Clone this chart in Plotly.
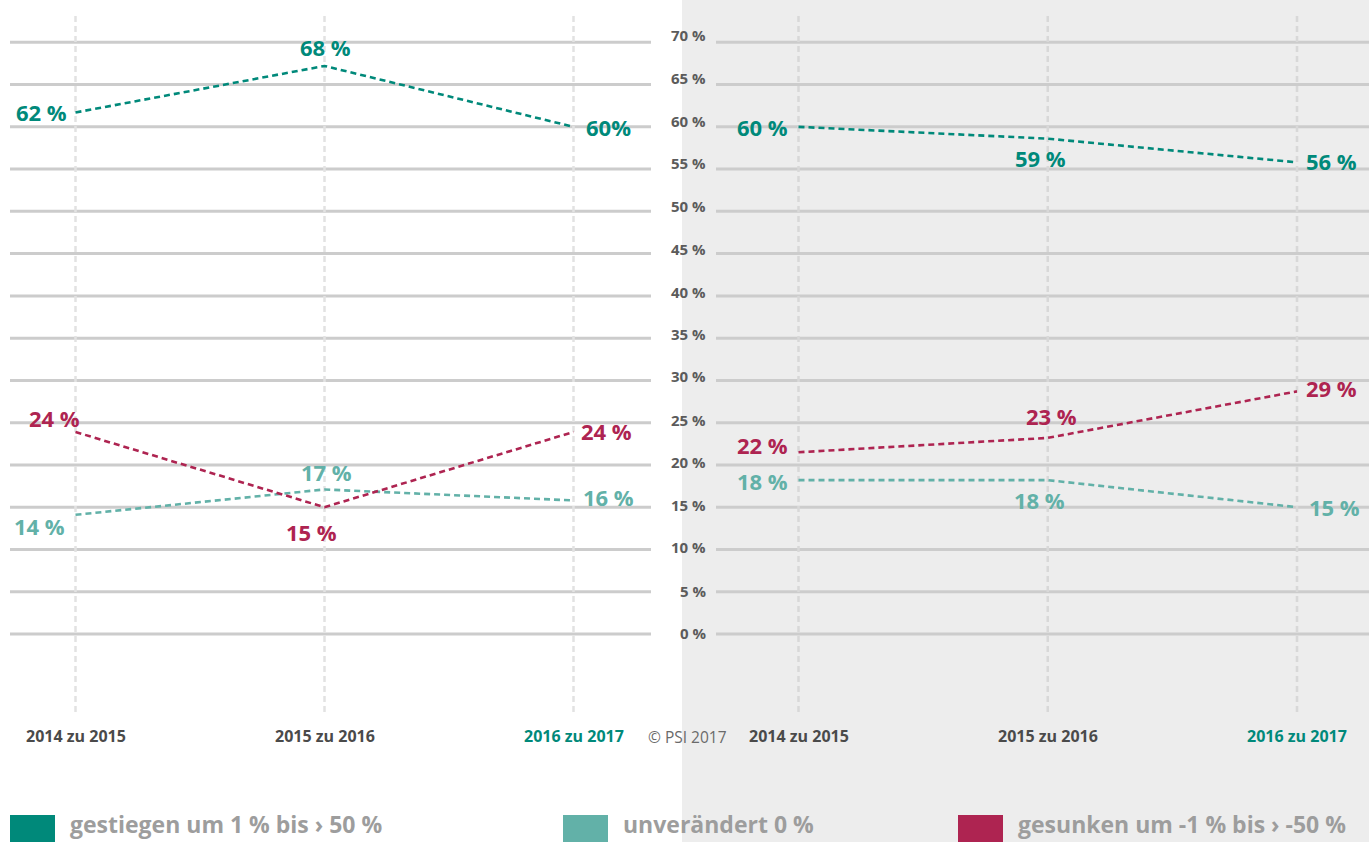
import plotly.graph_objects as go

# ---------------- data ----------------
categories = ["2014 zu 2015", "2015 zu 2016", "2016 zu 2017"]
series_names = ["gestiegen um 1 % bis › 50 %", "unverändert 0 %", "gesunken um -1 % bis › -50 %"]

left_gestiegen = [61.7, 67.2, 60.0]
left_unveraendert = [14.1, 17.1, 15.8]
left_gesunken = [23.9, 15.0, 23.9]

right_gestiegen = [60.0, 58.6, 55.8]
right_unveraendert = [18.2, 18.2, 15.0]
right_gesunken = [21.5, 23.2, 28.7]

left_gestiegen_labels = ["62 %", "68 %", "60%"]
left_unveraendert_labels = ["14 %", "17 %", "16 %"]
left_gesunken_labels = ["24 %", "15 %", "24 %"]

right_gestiegen_labels = ["60 %", "59 %", "56 %"]
right_unveraendert_labels = ["18 %", "18 %", "15 %"]
right_gesunken_labels = ["22 %", "23 %", "29 %"]

y_ticks = [0, 5, 10, 15, 20, 25, 30, 35, 40, 45, 50, 55, 60, 65, 70]
y_tick_labels = [f"{v} %" for v in y_ticks]
copyright_text = "© PSI 2017"

# ---------------- styles ----------------
W, H = 1369, 842
GREEN = "#00897a"
TEAL = "#62b1a8"
RED = "#ae2451"
GRID = "#cccccc"
FONT = "Open Sans"
SPLIT = 682 / W

colors = [GREEN, TEAL, RED]

# label placement (xanchor, xshift, yshift) per point
place_left = [
    [("right", -7, 0), ("center", 1, 19), ("left", 10, 0)],
    [("right", -9, -11), ("center", 2, 17), ("left", 7, 3)],
    [("right", 6, 14), ("center", -13, -25), ("left", 5, 1)],
]
place_right = [
    [("right", -9, 0), ("center", -7, -19), ("left", 7, 1)],
    [("right", -9, -1), ("center", -8, -20), ("left", 10, 0)],
    [("right", -9, 7), ("center", 4, 22), ("left", 7, 3)],
]

xs = list(range(len(categories)))

fig = go.Figure()

left_series = [left_gestiegen, left_unveraendert, left_gesunken]
right_series = [right_gestiegen, right_unveraendert, right_gesunken]
left_labels = [left_gestiegen_labels, left_unveraendert_labels, left_gesunken_labels]
right_labels = [right_gestiegen_labels, right_unveraendert_labels, right_gesunken_labels]

for i, name in enumerate(series_names):
    fig.add_trace(go.Scatter(x=xs, y=left_series[i], mode="lines", name=name,
                             line=dict(color=colors[i], width=2.6, dash="6px,4px"),
                             xaxis="x", yaxis="y", showlegend=False, hoverinfo="skip"))
    fig.add_trace(go.Scatter(x=xs, y=right_series[i], mode="lines", name=name,
                             line=dict(color=colors[i], width=2.6, dash="6px,4px"),
                             xaxis="x2", yaxis="y", showlegend=False, hoverinfo="skip"))

annotations = []
shapes = []

# gray background for right panel
shapes.append(dict(type="rect", xref="paper", yref="paper", x0=SPLIT, x1=1, y0=0, y1=1,
                   fillcolor="#ededed", line=dict(width=0), layer="below"))

# horizontal gridlines + tick labels
for v, t in zip(y_ticks, y_tick_labels):
    shapes.append(dict(type="line", xref="paper", yref="y", x0=10 / W, x1=651 / W, y0=v, y1=v,
                       line=dict(color=GRID, width=3), layer="below"))
    shapes.append(dict(type="line", xref="paper", yref="y", x0=716 / W, x1=1, y0=v, y1=v,
                       line=dict(color=GRID, width=3), layer="below"))
    annotations.append(dict(xref="paper", yref="y", x=708 / W, y=v, text=f"<b>{t}</b>",
                            xanchor="right", yanchor="middle", showarrow=False,
                            yshift=1 + round(v / 70 * 6),
                            font=dict(family=FONT, size=15, color="#5b5b5b")))

# vertical dashed category lines
for ax, col in (("x", "#e2e2e2"), ("x2", "#d8d8d8")):
    for x in xs:
        shapes.append(dict(type="line", xref=ax, yref="paper", x0=x, x1=x,
                           y0=1 - 712 / H, y1=1 - 12 / H,
                           line=dict(color=col, width=2.5, dash="6px,4px"), layer="below"))

# category labels
for ax in ("x", "x2"):
    for x, c in zip(xs, categories):
        col = GREEN if x == len(categories) - 1 else "#4a4a4a"
        annotations.append(dict(xref=ax, yref="paper", x=x, y=1 - 736 / H, text=f"<b>{c}</b>",
                                xanchor="center", yanchor="middle", showarrow=False,
                                font=dict(family=FONT, size=16, color=col)))

annotations.append(dict(xref="paper", yref="paper", x=687 / W, y=1 - 737 / H, text=copyright_text,
                        xanchor="center", yanchor="middle", showarrow=False,
                        font=dict(family=FONT, size=15.5, color="#6a6a6a")))

# data labels
for ax, series, labels, places in (("x", left_series, left_labels, place_left),
                                    ("x2", right_series, right_labels, place_right)):
    for i in range(len(series)):
        for j, (yv, lab) in enumerate(zip(series[i], labels[i])):
            xa, xsft, ysft = places[i][j]
            annotations.append(dict(xref=ax, yref="y", x=xs[j], y=yv, text=f"<b>{lab}</b>",
                                    xanchor=xa, yanchor="middle", xshift=xsft, yshift=ysft,
                                    showarrow=False,
                                    font=dict(family=FONT, size=22, color=colors[i])))

# legend (squares + text)
legend_x = [10, 563, 958]
for i, name in enumerate(series_names):
    x0 = legend_x[i]
    shapes.append(dict(type="rect", xref="paper", yref="paper", x0=x0 / W, x1=(x0 + 45) / W,
                       y0=0, y1=1 - 815 / H, fillcolor=colors[i], line=dict(width=0)))
    annotations.append(dict(xref="paper", yref="paper", x=(x0 + 58) / W, y=0, text=f"<b>{name}</b>",
                            xanchor="left", yanchor="bottom", yshift=0, showarrow=False,
                            font=dict(family=FONT, size=23, color="#9d9d9d")))

fig.update_layout(
    width=W, height=H, autosize=False,
    margin=dict(l=0, r=0, t=0, b=0),
    paper_bgcolor="white", plot_bgcolor="rgba(0,0,0,0)",
    xaxis=dict(domain=[0, SPLIT], range=[-75.5 / 249, (682 - 75.5) / 249], visible=False,
               fixedrange=True),
    xaxis2=dict(domain=[SPLIT, 1], range=[-116.5 / 249.25, (687 - 116.5) / 249.25], visible=False,
                anchor="y", fixedrange=True),
    yaxis=dict(range=[-24.607, 75.004], visible=False, fixedrange=True),
    shapes=shapes,
    annotations=annotations,
)

fig.write_html("out.html", config={"displayModeBar": False},
               post_script="document.body.style.margin='0';document.body.style.overflow='hidden';")
